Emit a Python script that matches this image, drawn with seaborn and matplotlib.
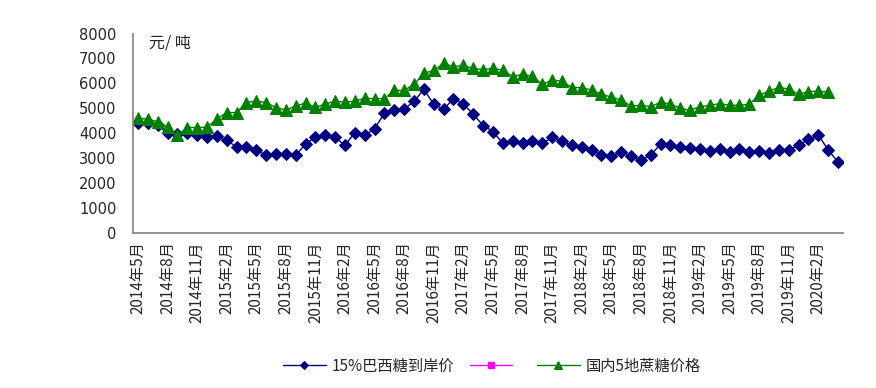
import numpy as np
import pandas as pd
import matplotlib
matplotlib.use("Agg")
import matplotlib.pyplot as plt
import seaborn as sns

# monthly, 2014-05 .. 2020-04
months = pd.period_range("2014-05", "2020-04", freq="M")
month_labels = [f"{p.year}年{p.month}月" for p in months]

brazil_cif = [4430, 4400, 4330, 3990, 3950, 4030, 3930, 3840, 3890, 3730,
              3440, 3450, 3330, 3110, 3150, 3150, 3110, 3570, 3840, 3930,
              3830, 3520, 4030, 3910, 4190, 4800, 4930, 4970, 5280, 5760,
              5160, 4960, 5390, 5160, 4770, 4310, 4070, 3600, 3680, 3600,
              3690, 3590, 3830, 3670, 3510, 3440, 3320, 3130, 3090, 3230,
              3090, 2920, 3130, 3560, 3530, 3450, 3400, 3370, 3280, 3350,
              3240, 3370, 3250, 3280, 3190, 3330, 3310, 3530, 3750, 3930,
              3330, 2840]

domestic_cane = [4600, 4560, 4470, 4240, 3910, 4230, 4230, 4240, 4570, 4830,
                 4830, 5230, 5290, 5230, 5030, 4930, 5090, 5210, 5040, 5170,
                 5290, 5240, 5290, 5400, 5390, 5390, 5720, 5720, 5960, 6400,
                 6520, 6800, 6670, 6720, 6600, 6550, 6600, 6530, 6270, 6360,
                 6280, 5960, 6130, 6090, 5830, 5830, 5730, 5560, 5450, 5330,
                 5090, 5120, 5070, 5240, 5170, 5000, 4920, 5070, 5120, 5190,
                 5120, 5120, 5170, 5520, 5690, 5840, 5770, 5560, 5670, 5690,
                 5640]

series_names = ["15%巴西糖到岸价", " ", "国内5地蔗糖价格"]

sns.set_style("white")
plt.rcParams["font.family"] = ["Noto Sans CJK SC", "DejaVu Sans"]

fig = plt.figure(figsize=(8.76, 3.88), dpi=100)
ax = fig.add_axes([133 / 876, 1 - 233 / 388, 710 / 876, 199.5 / 388])

x_blue = np.arange(len(brazil_cif))
x_green = np.arange(len(domestic_cane))

sns.lineplot(x=x_blue, y=brazil_cif, ax=ax, color="#000080", linewidth=1,
             marker="D", markersize=6.5, markeredgecolor="#000080",
             label=series_names[0])
ax.plot([], [], color="#FF00FF", linewidth=1, marker="s", markersize=6,
        label=series_names[1])
sns.lineplot(x=x_green, y=domestic_cane, ax=ax, color="#008000", linewidth=1,
             marker="^", markersize=8, markeredgecolor="#008000",
             label=series_names[2])

ax.set_xlim(-0.5, len(months) - 0.5)
ax.set_ylim(0, 8000)
ax.set_yticks(range(0, 8001, 1000))
ax.set_yticklabels([str(v) for v in range(0, 8001, 1000)],
                   family="DejaVu Sans", fontsize=10.5)

label_pos = list(range(0, len(months), 3))
ax.set_xticks(label_pos)
ax.set_xticklabels([month_labels[i] for i in label_pos], rotation=90,
                   fontsize=11, va="top")
ax.set_xticks(np.arange(-0.5, len(months), 3), minor=True)
ax.tick_params(axis="x", which="major", length=0, pad=6)
ax.tick_params(axis="x", which="minor", direction="in", length=4,
               width=1, color="#404040")
ax.tick_params(axis="y", direction="in", length=4, width=1,
               color="#404040", pad=12)

for s in ["top", "right"]:
    ax.spines[s].set_visible(False)
for s in ["left", "bottom"]:
    ax.spines[s].set_color("#808080")
    ax.spines[s].set_linewidth(1.2)

ax.set_xlabel("")
ax.set_ylabel("")
ax.text(0.023, 0.995, "元/ 吨", transform=ax.transAxes, fontsize=11.5,
        va="top", ha="left")

handles, labels = ax.get_legend_handles_labels()
ax.get_legend().remove()
fig.legend(handles, labels, loc="center", bbox_to_anchor=(492 / 876, 0.057),
           ncol=3, frameon=False, fontsize=11, handlelength=2.8,
           columnspacing=1.0, handletextpad=0.4, markerscale=0.65)

fig.savefig("out.png", dpi=100)
